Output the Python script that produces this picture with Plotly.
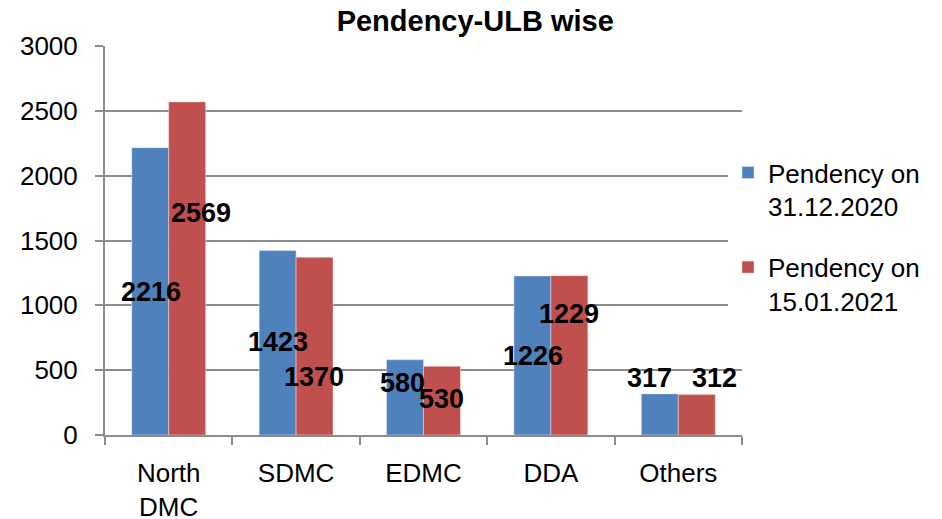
import plotly.graph_objects as go

# data
categories = ["North<br>DMC", "SDMC", "EDMC", "DDA", "Others"]
series_names = ["Pendency on<br>31.12.2020", "Pendency on<br>15.01.2021"]
pend_dec = [2216, 1423, 580, 1226, 317]
pend_jan = [2569, 1370, 530, 1229, 312]

colors = ["#4f81bd", "#c0504d"]

# where the (hand placed) data labels sit, in data units / pixel shifts
label_y_dec = [1100, 720, 400, 610, 440]
label_y_jan = [1710, 450, 280, 930, 440]
shift_dec = [0, 0, -3, 0, -11]
shift_jan = [14, 0, 0, 0, 18]

fig = go.Figure()
fig.add_trace(go.Bar(x=categories, y=pend_dec, name=series_names[0], legendgroup="dec",
                     marker=dict(color=colors[0], line=dict(width=0.5, color="#dfe6f0"))))
fig.add_trace(go.Bar(x=categories, y=pend_jan, name=series_names[1], legendgroup="jan",
                     marker=dict(color=colors[1], line=dict(width=0.5, color="#f0dcdc"))))

for i, cat in enumerate(categories):
    for vals, ys, sh, off in [(pend_dec, label_y_dec, shift_dec, -18),
                              (pend_jan, label_y_jan, shift_jan, 18)]:
        fig.add_annotation(x=cat, y=ys[i], text="<b>%d</b>" % vals[i],
                           showarrow=False, xshift=off + sh[i],
                           font=dict(size=27, color="black"))

fig.update_layout(
    title=dict(text="<b>Pendency-ULB wise</b>", x=0.496, xanchor="center",
               y=0.976, yanchor="middle", font=dict(size=29, color="black")),
    barmode="group",
    bargap=0.42,
    bargroupgap=0,
    width=942, height=519,
    margin=dict(l=97, r=208, t=38, b=92),
    paper_bgcolor="white",
    plot_bgcolor="white",
    font=dict(family="Liberation Sans, Arial, sans-serif", size=26, color="black"),
    legend=dict(x=0.978, xanchor="left", y=0.735, yanchor="top",
                valign="top", tracegroupgap=24, itemwidth=30,
                font=dict(size=26, color="black")),
    xaxis=dict(showline=True, linecolor="#8c8c8c", linewidth=2,
               ticks="outside", tickson="boundaries", ticklen=8,
               tickcolor="#8c8c8c", tickwidth=2, automargin=False,
               ticklabelstandoff=14,
               tickfont=dict(size=26)),
    yaxis=dict(range=[0, 3000], dtick=500, showline=True, linecolor="#8c8c8c",
               linewidth=2, gridcolor="#8c8c8c", gridwidth=2,
               ticks="outside", ticklen=8, tickcolor="#8c8c8c", tickwidth=2,
               ticklabelstandoff=12, zeroline=False, automargin=False,
               tickfont=dict(size=26)),
)

fig.write_html("out.html")
